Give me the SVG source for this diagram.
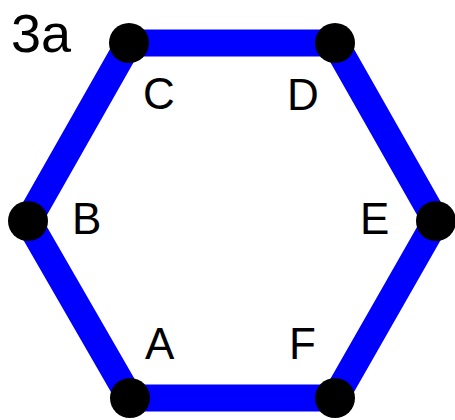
<svg xmlns="http://www.w3.org/2000/svg" width="455" height="420" viewBox="0 0 455 420">
<style>
.edge{stroke:#0000ff;stroke-width:27;stroke-linecap:round;fill:none}
.dot{fill:#000}
.lbl{font-family:"Liberation Sans",Arial,sans-serif;font-size:44px;fill:#000}
.title{font-family:"Liberation Sans",Arial,sans-serif;font-size:54px;fill:#000}
</style>
<rect width="455" height="420" fill="#fff"/>
<text class="title" x="11" y="52">3a</text>
<g id="connectors">
<line class="edge" x1="130" y1="398" x2="28" y2="221"/>
<line class="edge" x1="28" y1="221" x2="129" y2="43"/>
<line class="edge" x1="129" y1="43" x2="335" y2="43"/>
<line class="edge" x1="335" y1="43" x2="436" y2="221"/>
<line class="edge" x1="436" y1="221" x2="335" y2="398"/>
<line class="edge" x1="335" y1="398" x2="130" y2="398"/>
</g>
<g id="node-A"><circle class="dot" cx="130" cy="398" r="20"/><text class="lbl" x="145" y="359">A</text></g>
<g id="node-B"><circle class="dot" cx="28" cy="221" r="20"/><text class="lbl" x="72" y="234">B</text></g>
<g id="node-C"><circle class="dot" cx="129" cy="43" r="20"/><text class="lbl" x="143" y="109">C</text></g>
<g id="node-D"><circle class="dot" cx="335" cy="43" r="20"/><text class="lbl" x="287" y="110">D</text></g>
<g id="node-E"><circle class="dot" cx="436" cy="221" r="20"/><text class="lbl" x="360" y="234">E</text></g>
<g id="node-F"><circle class="dot" cx="335" cy="398" r="20"/><text class="lbl" x="289" y="359">F</text></g>
</svg>
